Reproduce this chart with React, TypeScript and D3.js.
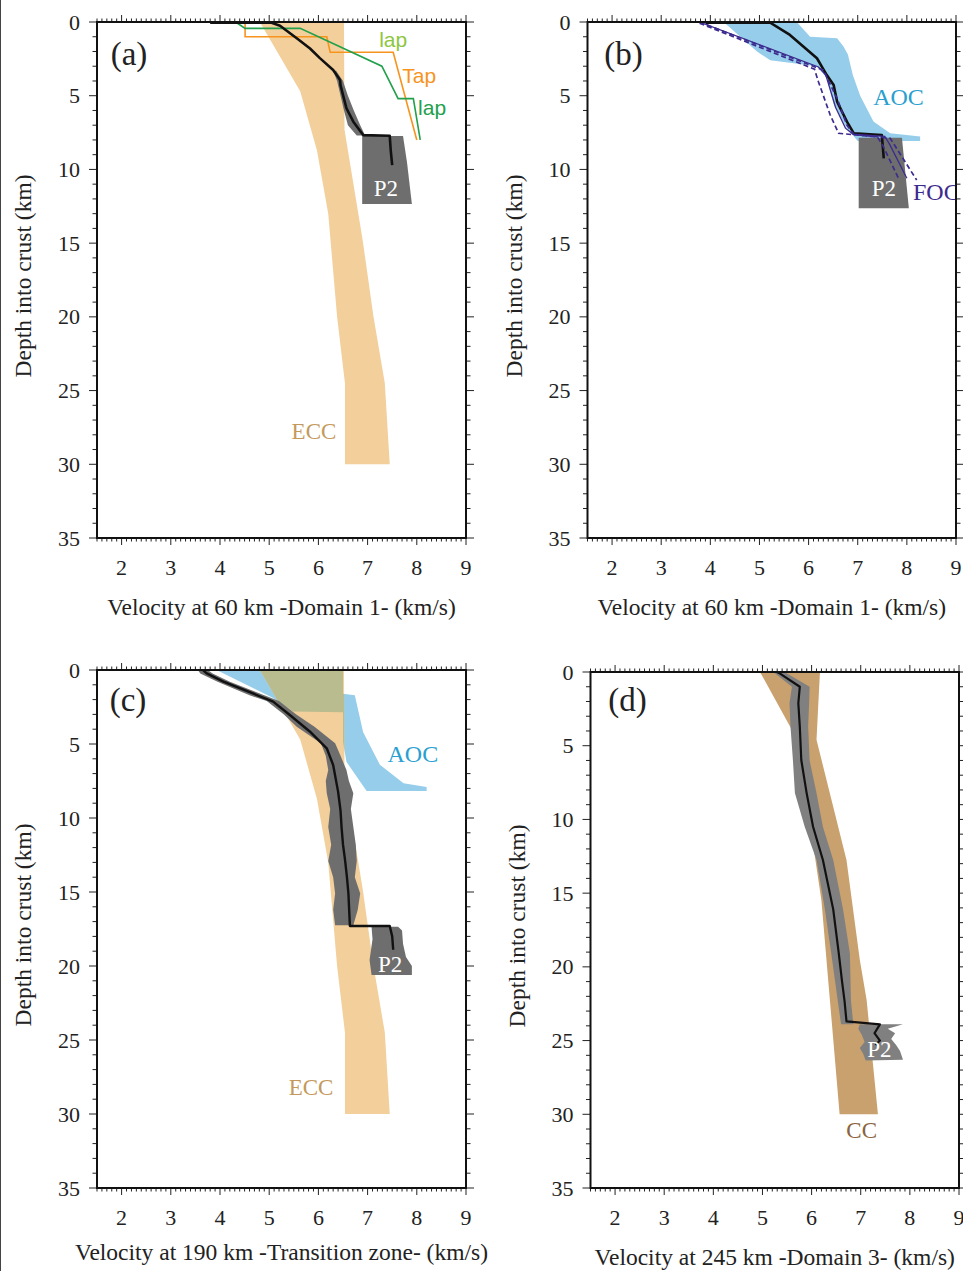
import React from 'react';
import * as d3 from 'd3';

type P = [number, number]; // [velocity km/s, depth km]

// ---------- shared axis values ----------
const X_DOMAIN: [number, number] = [1.5, 9];
const Y_DOMAIN: [number, number] = [0, 35];
const xMajorTicks = [2, 3, 4, 5, 6, 7, 8, 9];
const yMajorTicks = [0, 5, 10, 15, 20, 25, 30, 35];

// ---------- ECC band (panels a, c) ----------
const eccLeft: P[] = [[4.81, 0], [5.63, 4.7], [5.97, 8.7], [6.2, 13], [6.38, 20], [6.54, 24.5], [6.54, 30]];
const eccRight: P[] = [[6.52, 0], [6.53, 7.3], [6.9, 14.8], [7.12, 20], [7.35, 24.5], [7.45, 30]];

// ---------- panel (a) ----------
const aTap: P[] = [[4.51, 0.05], [4.51, 1.0], [6.17, 1.0], [6.24, 2.05], [7.52, 2.05], [8.0, 8.0]];
const aIap: P[] = [[4.34, 0.05], [4.51, 0.43], [5.63, 0.43], [7.29, 3.0], [7.62, 5.2], [7.93, 5.2], [8.07, 8.0]];
const aMean: P[] = [[3.8, 0.05], [5.05, 0.05], [5.22, 0.25], [5.56, 1.1], [5.83, 1.8], [6.03, 2.45], [6.3, 3.25], [6.44, 3.93], [6.45, 4.3], [6.57, 5.85], [6.71, 6.76], [6.91, 7.67], [7.45, 7.72], [7.47, 8.7], [7.5, 9.7]];
const aBandDepth = [3.3, 4.0, 5.0, 6.0, 7.0, 7.7];
const aBandLo = [6.3, 6.38, 6.45, 6.52, 6.6, 6.78];
const aBandHi = [6.36, 6.5, 6.6, 6.72, 6.85, 6.95];
const aP2: P[] = [[6.89, 7.74], [7.72, 7.74], [7.8, 9.5], [7.9, 12.35], [6.89, 12.35]];

// ---------- panel (b) ----------
const bAocLeft: P[] = [[4.27, 0], [4.95, 2.0], [5.22, 2.6], [6.17, 3.0], [6.37, 3.8], [6.51, 5.6], [6.78, 7.2], [7.0, 8.07]];
const bAocRight: P[] = [[5.76, 0], [6.03, 1.0], [6.58, 1.1], [6.71, 1.67], [6.8, 2.2], [6.9, 3.6], [7.05, 5.0], [7.32, 6.75], [7.66, 7.55], [8.27, 7.77], [8.27, 8.07]];
const bMean: P[] = [[3.9, 0.05], [5.22, 0.05], [5.62, 0.88], [6.17, 2.46], [6.37, 3.6], [6.51, 4.27], [6.58, 5.4], [6.78, 6.76], [6.92, 7.55], [7.49, 7.66], [7.53, 9.25]];
const bP2: P[] = [[7.02, 7.85], [7.9, 7.85], [8.04, 12.64], [7.02, 12.64]];
const bFocOuter: P[] = [[3.78, 0], [6.17, 3.1], [6.3, 3.26], [6.58, 5.18], [6.78, 7.0], [6.92, 7.62], [7.66, 7.89], [8.2, 10.72]];
const bFocInner: P[] = [[3.78, 0.08], [6.12, 3.2], [6.2, 4.05], [6.44, 6.31], [6.61, 7.55], [7.4, 7.8], [7.5, 8.3], [7.83, 10.6]];
const bFocMid: P[] = [[3.8, 0.03], [6.2, 3.05], [6.35, 3.6], [6.55, 5.8], [6.75, 7.2], [6.9, 7.6], [7.55, 7.75], [7.65, 8.3], [8.0, 10.6]];

// ---------- panel (c) ----------
const cAocLeft: P[] = [[3.93, 0], [5.08, 1.9], [5.49, 2.8], [6.5, 2.85], [6.5, 4.85], [6.57, 6.2], [6.98, 8.18]];
const cAocRight: P[] = [[6.5, 0], [6.5, 1.6], [6.74, 1.7], [6.91, 4.2], [7.25, 6.4], [7.73, 7.66], [8.2, 7.9], [8.2, 8.18]];
const cMean: P[] = [[3.66, 0.02], [3.73, 0.23], [4.07, 0.79], [4.75, 1.69], [5.08, 2.14], [5.42, 3.04], [5.83, 4.17], [6.17, 5.29], [6.3, 6.42], [6.4, 8.22], [6.45, 9.5], [6.47, 10.6], [6.5, 11.8], [6.54, 12.8], [6.58, 14.0], [6.61, 15.1], [6.64, 17.3], [7.45, 17.3], [7.5, 18.0], [7.52, 18.9]];
const cBandDepth = [0, 0.23, 0.8, 1.7, 2.1, 3.0, 3.83, 4.95, 5.8, 6.76, 7.5, 8.33, 9.4, 10.6, 11.8, 12.9, 14.0, 15.1, 16.2, 17.25];
const cBandLo = [3.55, 3.6, 3.95, 4.6, 4.95, 5.3, 5.56, 6.05, 6.15, 6.2, 6.15, 6.17, 6.24, 6.2, 6.26, 6.2, 6.3, 6.34, 6.3, 6.34];
const cBandHi = [3.75, 3.85, 4.2, 4.9, 5.2, 5.55, 5.92, 6.34, 6.45, 6.57, 6.62, 6.71, 6.66, 6.71, 6.76, 6.78, 6.74, 6.85, 6.8, 6.71];
const cP2: P[] = [[7.08, 17.35], [7.62, 17.35], [7.7, 17.6], [7.72, 18.5], [7.78, 19.4], [7.9, 20.0], [7.9, 20.6], [7.08, 20.6], [7.04, 19.6], [7.1, 18.2]];

// ---------- panel (d) ----------
const dCcLeft: P[] = [[4.95, 0], [5.62, 4.05], [5.75, 6], [6.0, 11], [6.2, 15.5], [6.57, 30]];
const dCcRight: P[] = [[6.17, 0], [6.1, 4.6], [6.71, 12.75], [6.98, 19.5], [7.12, 22.25], [7.35, 30]];
const dMean: P[] = [[5.3, 0.02], [5.35, 0.09], [5.76, 1.0], [5.73, 2.12], [5.76, 3.71], [5.79, 5.97], [5.9, 8.23], [6.03, 10.5], [6.23, 12.75], [6.44, 16.1], [6.55, 19.0], [6.62, 21], [6.67, 22.3], [6.71, 23.7], [7.39, 23.9], [7.28, 24.5], [7.39, 25.0], [7.3, 25.3]];
const dBandDepth = [0, 1.0, 2.1, 3.7, 6.0, 8.2, 10.5, 12.75, 16.1, 19.1, 22.25, 23.9];
const dBandLo = [5.22, 5.6, 5.55, 5.57, 5.62, 5.66, 5.86, 6.1, 6.27, 6.4, 6.53, 6.6];
const dBandHi = [5.45, 5.96, 5.95, 5.93, 5.96, 6.1, 6.23, 6.44, 6.64, 6.78, 6.8, 6.85];
const dP2: P[] = [[6.98, 23.9], [7.86, 23.9], [7.55, 24.2], [7.7, 24.5], [7.62, 24.9], [7.72, 25.3], [7.8, 25.7], [7.86, 26.3], [7.1, 26.35], [7.05, 25.9], [6.98, 25.5], [7.08, 25.1], [7.02, 24.6], [6.95, 24.2]];

// ---------- colours ----------
const TAN = '#f2cf9b';
const BLUE = '#95cdeb';
const OLIVE = '#b9bc8e';
const CC_BROWN = '#c9a16e';
const GREY = '#6e6e6e';
const GREY_D = '#808080';
const ORANGE = '#f7941d';
const LGREEN = '#8dc641';
const DGREEN = '#22a04b';
const PURPLE = '#3d2b8e';
const SERIF = '"Liberation Serif", "Times New Roman", serif';
const SANS = '"Liberation Sans", Arial, sans-serif';

type Frame = { l: number; r: number; t: number; b: number };
type Scales = { x: d3.ScaleLinear<number, number>; y: d3.ScaleLinear<number, number> };

const polyOf = (left: P[], right: P[]): P[] => [...left, ...right.slice().reverse()];
const bandOf = (depth: number[], lo: number[], hi: number[]): P[] =>
  polyOf(depth.map((d, i) => [lo[i], d] as P), depth.map((d, i) => [hi[i], d] as P));

function Panel({ frame, letter, letterPos, xTitle, titleDy, children }: {
  frame: Frame; letter: string; letterPos: [number, number]; xTitle: string; titleDy: number;
  children: (s: Scales & { line: (p: P[]) => string; closed: (p: P[]) => string }) => React.ReactNode;
}) {
  const x = d3.scaleLinear().domain(X_DOMAIN).range([frame.l, frame.r]);
  const y = d3.scaleLinear().domain(Y_DOMAIN).range([frame.t, frame.b]);
  const gen = d3.line<P>().x((p) => x(p[0])).y((p) => y(p[1]));
  const line = (p: P[]) => gen(p) || '';
  const closed = (p: P[]) => (gen(p) || '') + 'Z';
  const xMinor = d3.range(15, 91).map((i) => i / 10);
  const yMinor = d3.range(0, 36);
  const clipId = 'clip' + letter.replace(/[()]/g, '');
  return (
    <g>
      <defs>
        <clipPath id={clipId}>
          <rect x={frame.l} y={frame.t} width={frame.r - frame.l} height={frame.b - frame.t} />
        </clipPath>
      </defs>
      <g clipPath={`url(#${clipId})`}>{children({ x, y, line, closed })}</g>
      {/* ticks */}
      <g stroke="#222" strokeWidth={1}>
        {xMinor.map((v) => {
          const major = Math.abs(v - Math.round(v)) < 1e-6;
          const len = major ? 7 : 3.5;
          return (
            <g key={'x' + v}>
              <line x1={x(v)} x2={x(v)} y1={frame.b} y2={frame.b + len} />
              <line x1={x(v)} x2={x(v)} y1={frame.t} y2={frame.t - len} />
            </g>
          );
        })}
        {yMinor.map((d) => {
          const major = d % 5 === 0;
          const len = major ? 8 : 4.5;
          return (
            <g key={'y' + d}>
              <line x1={frame.l} x2={frame.l - len} y1={y(d)} y2={y(d)} />
              <line x1={frame.r} x2={frame.r + len} y1={y(d)} y2={y(d)} />
            </g>
          );
        })}
      </g>
      <rect x={frame.l} y={frame.t} width={frame.r - frame.l} height={frame.b - frame.t} fill="none" stroke="#111" strokeWidth={2} />
      {/* tick labels */}
      <g fontFamily={SERIF} fontSize={22} fill="#222">
        {xMajorTicks.map((v) => (
          <text key={'xl' + v} x={x(v)} y={frame.b + 29} textAnchor="middle" dominantBaseline="central">{v}</text>
        ))}
        {yMajorTicks.map((d) => (
          <text key={'yl' + d} x={frame.l - 17} y={y(d)} textAnchor="end" dominantBaseline="central">{d}</text>
        ))}
      </g>
      <text x={(frame.l + frame.r) / 2} y={frame.b + titleDy} textAnchor="middle" dominantBaseline="central" fontFamily={SERIF} fontSize={23.5} fill="#222">{xTitle}</text>
      <text transform={`translate(${frame.l - 74},${(frame.t + frame.b) / 2 - 4}) rotate(-90)`} textAnchor="middle" dominantBaseline="central" fontFamily={SERIF} fontSize={23.5} fill="#222">Depth into crust (km)</text>
      <text x={frame.l + letterPos[0]} y={frame.t + letterPos[1]} textAnchor="middle" dominantBaseline="central" fontFamily={SERIF} fontSize={33} fill="#222">{letter}</text>
    </g>
  );
}

const labelStyle = { fontFamily: SERIF, fontSize: 23 } as const;

export default function App() {
  return (
    <svg width={963} height={1271} style={{ position: 'absolute', left: 0, top: 0, background: '#fff' }}>
      <rect x={0} y={0} width={963} height={1271} fill="#fff" />
      <line x1={0.5} x2={0.5} y1={0} y2={1271} stroke="#444" strokeWidth={1} />

      {/* (a) */}
      <Panel frame={{ l: 97, r: 466, t: 22, b: 538 }} letter="(a)" letterPos={[32, 32]} xTitle="Velocity at 60 km -Domain 1- (km/s)" titleDy={69}>
        {({ x, y, line, closed }) => (
          <g>
            <path d={closed(polyOf(eccLeft, eccRight))} fill={TAN} />
            <path d={closed(bandOf(aBandDepth, aBandLo, aBandHi))} fill={GREY} />
            <path d={closed(aP2)} fill={GREY} />
            <path d={line(aTap)} fill="none" stroke={ORANGE} strokeWidth={1.6} />
            <path d={line(aIap)} fill="none" stroke={DGREEN} strokeWidth={1.6} />
            <path d={line(aMean)} fill="none" stroke="#111" strokeWidth={2.6} strokeLinejoin="round" />
            <text x={x(7.52)} y={y(1.22)} textAnchor="middle" dominantBaseline="central" fontFamily={SANS} fontSize={21} fill={LGREEN}>lap</text>
            <text x={x(8.05)} y={y(3.66)} textAnchor="middle" dominantBaseline="central" fontFamily={SANS} fontSize={21} fill={ORANGE}>Tap</text>
            <text x={x(8.31)} y={y(5.77)} textAnchor="middle" dominantBaseline="central" fontFamily={SANS} fontSize={21} fill={DGREEN}>lap</text>
            <text x={x(7.37)} y={y(11.26)} textAnchor="middle" dominantBaseline="central" {...labelStyle} fill="#fff">P2</text>
            <text x={x(5.91)} y={y(27.8)} textAnchor="middle" dominantBaseline="central" {...labelStyle} fill="#c49a5c">ECC</text>
          </g>
        )}
      </Panel>

      {/* (b) */}
      <Panel frame={{ l: 587.5, r: 956, t: 22, b: 538 }} letter="(b)" letterPos={[36, 32]} xTitle="Velocity at 60 km -Domain 1- (km/s)" titleDy={69}>
        {({ x, y, line, closed }) => (
          <g>
            <path d={closed(polyOf(bAocLeft, bAocRight))} fill={BLUE} />
            <path d={closed(bP2)} fill={GREY} />
            <path d={line(bMean)} fill="none" stroke="#111" strokeWidth={2.6} strokeLinejoin="round" />
            <path d={line(bFocOuter)} fill="none" stroke={PURPLE} strokeWidth={1.7} strokeDasharray="5,3" />
            <path d={line(bFocInner)} fill="none" stroke={PURPLE} strokeWidth={1.7} strokeDasharray="5,3" />
            <path d={line(bFocMid)} fill="none" stroke={PURPLE} strokeWidth={1.3} />
            <text x={x(7.83)} y={y(5.09)} textAnchor="middle" dominantBaseline="central" {...labelStyle} fontSize={24} fill="#2a9fd0">AOC</text>
            <text x={x(7.53)} y={y(11.26)} textAnchor="middle" dominantBaseline="central" {...labelStyle} fill="#fff">P2</text>
            <text x={x(8.6)} y={y(11.53)} textAnchor="middle" dominantBaseline="central" {...labelStyle} fontSize={24} fill={PURPLE}>FOC</text>
          </g>
        )}
      </Panel>

      {/* (c) */}
      <Panel frame={{ l: 97, r: 466, t: 670, b: 1188 }} letter="(c)" letterPos={[31, 30]} xTitle="Velocity at 190 km -Transition zone- (km/s)" titleDy={64}>
        {({ x, y, line, closed }) => (
          <g>
            <defs>
              <clipPath id="eccClipC">
                <path d={closed(polyOf(eccLeft, eccRight))} />
              </clipPath>
            </defs>
            <path d={closed(polyOf(cAocLeft, cAocRight))} fill={BLUE} />
            <path d={closed(polyOf(eccLeft, eccRight))} fill={TAN} />
            <path d={closed(polyOf(cAocLeft, cAocRight))} fill={OLIVE} clipPath="url(#eccClipC)" />
            <path d={closed(bandOf(cBandDepth, cBandLo, cBandHi))} fill={GREY} />
            <path d={closed(cP2)} fill={GREY} />
            <path d={line(cMean)} fill="none" stroke="#111" strokeWidth={2.4} strokeLinejoin="round" />
            <text x={x(7.92)} y={y(5.68)} textAnchor="middle" dominantBaseline="central" {...labelStyle} fontSize={24} fill="#2a9fd0">AOC</text>
            <text x={x(7.46)} y={y(19.93)} textAnchor="middle" dominantBaseline="central" {...labelStyle} fill="#fff">P2</text>
            <text x={x(5.85)} y={y(28.18)} textAnchor="middle" dominantBaseline="central" {...labelStyle} fill="#c49a5c">ECC</text>
          </g>
        )}
      </Panel>

      {/* (d) */}
      <Panel frame={{ l: 590.5, r: 959, t: 672, b: 1188 }} letter="(d)" letterPos={[37, 28]} xTitle="Velocity at 245 km -Domain 3- (km/s)" titleDy={69}>
        {({ x, y, line, closed }) => (
          <g>
            <path d={closed(polyOf(dCcLeft, dCcRight))} fill={CC_BROWN} />
            <path d={closed(bandOf(dBandDepth, dBandLo, dBandHi))} fill={GREY_D} />
            <path d={closed(dP2)} fill={GREY_D} />
            <path d={line(dMean)} fill="none" stroke="#111" strokeWidth={2.2} strokeLinejoin="round" />
            <text x={x(7.38)} y={y(25.6)} textAnchor="middle" dominantBaseline="central" {...labelStyle} fill="#fff">P2</text>
            <text x={x(7.02)} y={y(31.1)} textAnchor="middle" dominantBaseline="central" {...labelStyle} fill="#8a6440">CC</text>
          </g>
        )}
      </Panel>
    </svg>
  );
}
